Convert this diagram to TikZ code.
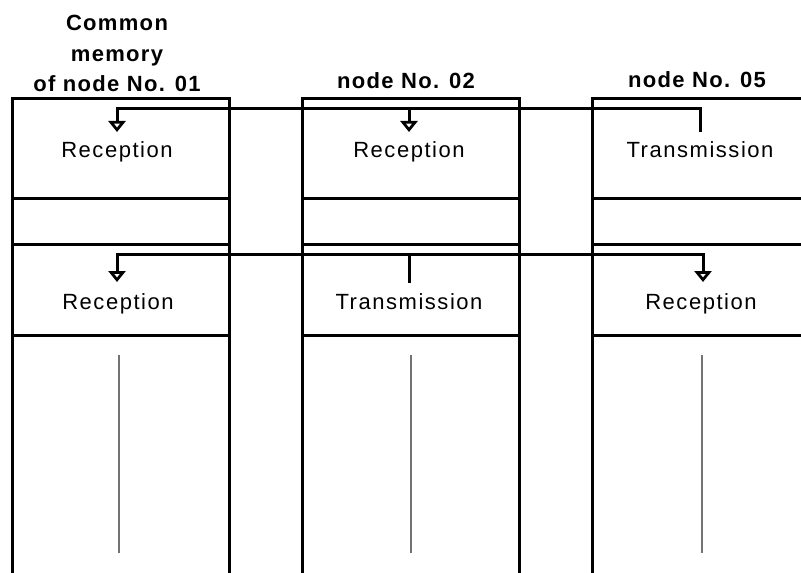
\documentclass[tikz,border=0pt]{standalone}
\usepackage{fontspec}
\usetikzlibrary{arrows.meta,calc}
\newfontfamily\lblfam[LetterSpace=7]{Liberation Sans}
\newfontfamily\hdrfam[LetterSpace=6]{Liberation Sans}
\def\cellfont{\lblfam\fontsize{11}{13}\selectfont}
\def\hdrfont{\hdrfam\bfseries\fontsize{11}{13}\selectfont}
\tikzset{
  cell/.style={draw=black,line width=1.5pt},
  conn/.style={line width=1.5pt},
  rx/.style={-{Triangle[open,width=8.5pt,length=5.5pt]}},
  lbl/.style={font=\cellfont,anchor=base,inner sep=0pt},
  hdr/.style={font=\hdrfont,anchor=base,inner sep=0pt},
  idle/.style={draw=black!55,line width=1.1pt}
}
\begin{document}
\begin{tikzpicture}[x=0.5pt,y=-0.5pt]
  \useasboundingbox (0,0) rectangle (801,572);
  % three memory columns
  \foreach \x/\g in {12/119,302/411,592/702}{
    \draw[cell] (\x,575) -- (\x,99) -- (\x+217,99) -- (\x+217,575);
    \draw[cell] (\x,198) -- (\x+217,198);
    \draw[cell] (\x,244) -- (\x+217,244);
    \draw[cell] (\x,335) -- (\x+217,335);
    \draw[idle] (\g,355) -- (\g,553);
  }
  % headers
  \node[hdr] (hdrA1) at (117,31) {Common};
  \node[hdr] (hdrA2) at (117,62) {memory};
  \node[hdr] (hdrA3) at (117,92) {of node No. 01};
  \node[hdr] (hdrB) at (406,89) {node No. 02};
  \node[hdr] (hdrC) at (697,88) {node No. 05};
  % cell texts
  \node[lbl] (rxA1) at (117,158) {Reception};
  \node[lbl] (rxB1) at (409,158) {Reception};
  \node[lbl] (txC1) at (700,158) {Transmission};
  \node[lbl] (rxA2) at (118,309) {Reception};
  \node[lbl] (txB2) at (409,309) {Transmission};
  \node[lbl] (rxC2) at (701,309) {Reception};
  % connector ends
  \coordinate (inA1) at (117,132);
  \coordinate (inB1) at (409,132);
  \coordinate (outC1) at (700,132);
  \coordinate (inA2) at (117,282);
  \coordinate (outB2) at (409,283);
  \coordinate (inC2) at (703,282);
  \coordinate (busA) at (117,109);
  \coordinate (busB) at (117,254);
  % node 05 -> 01, 02
  \draw[conn,rx] (outC1) |- (busA) -- (inA1);
  \draw[conn,rx] (busA -| inB1) -- (inB1);
  % node 02 -> 01, 05
  \draw[conn,rx] (outB2) |- (busB) -- (inA2);
  \draw[conn,rx] (outB2) |- (busB -| inC2) -- (inC2);
\end{tikzpicture}
\end{document}
